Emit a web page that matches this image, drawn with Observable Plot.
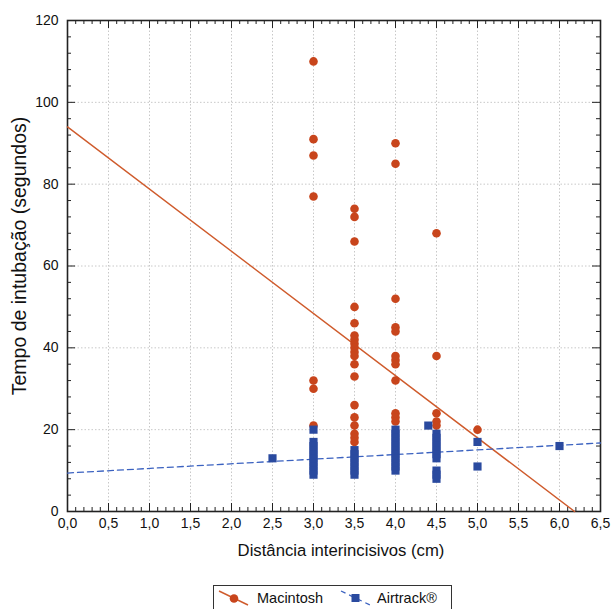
<!DOCTYPE html>
<html><head><meta charset="utf-8">
<script src="https://cdn.jsdelivr.net/npm/d3@7"></script>
<script src="https://cdn.jsdelivr.net/npm/@observablehq/plot@0.6"></script>
<style>
body{margin:0;background:#fff;font-family:"Liberation Sans",Arial,Helvetica,sans-serif;}
#chart{position:absolute;left:0;top:0;}
#legend{position:absolute;left:213px;top:585px;width:239px;height:32px;border:1px solid #333;box-sizing:border-box;background:#fff;font-size:14.5px;color:#111;}
#legend .item{position:absolute;top:3px;display:flex;align-items:center;}
</style></head><body>
<div id="chart"></div>
<div id="legend">
 <div class="item" style="left:3px"><svg width="34" height="18"><line x1="2" y1="2" x2="31" y2="16" stroke="#cf5b2c" stroke-width="1.4"/><circle cx="17" cy="9.5" r="4.3" fill="#c8451c"/></svg><span style="margin-left:6px">Macintosh</span></div>
 <div class="item" style="left:125px"><svg width="34" height="18"><line x1="2" y1="2" x2="31" y2="16" stroke="#3b62c0" stroke-width="1.3" stroke-dasharray="5,4"/><rect x="12.5" y="5" width="8" height="8" fill="#2a4a9f"/></svg><span style="margin-left:4px">Airtrack®</span></div>
</div>
<script>
// Macintosh observations (x: distância interincisivos cm, y: tempo s)
const macintoshX = [3,3,3,3,3,3,3, 3.5,3.5,3.5,3.5,3.5,3.5,3.5,3.5,3.5,3.5,3.5,3.5,3.5,3.5,3.5,3.5,3.5,3.5,3.5, 4,4,4,4,4,4,4,4,4,4,4,4, 4.5,4.5,4.5,4.5,4.5, 5];
const macintoshY = [110,91,87,77,32,30,21, 74,72,66,50,46,43,42,41,40,39,38,36,33,26,23,21,19,18,17, 90,85,52,45,44,38,37,36,32,24,23,22, 68,38,24,22,21, 20];
// Airtrack observations
const airtrackX = [2.5, 3,3,3,3,3,3,3,3,3,3, 3.5,3.5,3.5,3.5,3.5,3.5,3.5, 4,4,4,4,4,4,4,4,4,4,4, 4.4, 4.5,4.5,4.5,4.5,4.5,4.5,4.5,4.5,4.5,4.5, 5,5, 6];
const airtrackY = [13, 20,17,16,15,14,13,12,11,10,9, 15,14,13,12,11,10,9, 20,19,18,17,16,15,14,13,12,11,10, 21, 19,18,17,16,15,14,13,10,9,8, 17,11, 16];
// Regression lines [intercept, slope]
const macintoshFit = [94, -15.2];
const airtrackFit = [9.4, 1.13];
// Axis ticks
const xTicks = [0,0.5,1,1.5,2,2.5,3,3.5,4,4.5,5,5.5,6,6.5];
const yTicks = [0,20,40,60,80,100,120];

const red = "#c8451c", redLine = "#cf5b2c", blue = "#2a4a9f", blueLine = "#3b62c0";
const mac = macintoshX.map((x,i)=>({x, y: macintoshY[i]}));
const air = airtrackX.map((x,i)=>({x, y: airtrackY[i]}));
const xMax = 6.5, yMax = 120;
const macEnd = Math.min(xMax, -macintoshFit[0]/macintoshFit[1]);
const macLine = [0, macEnd].map(x=>({x, y: macintoshFit[0]+macintoshFit[1]*x}));
const airLine = [0, xMax].map(x=>({x, y: airtrackFit[0]+airtrackFit[1]*x}));

const W = 611, H = 578, mL = 67, mR = 11, mT = 20, mB = 67;
const pxX = xMax/(W-mL-mR), pxY = yMax/(H-mT-mB);
const xMinor = d3.range(0, 65).map(i=>i/10).filter(v=>Math.abs(v*2-Math.round(v*2))>1e-6);
const yMinor = d3.range(0, 121, 4).filter(v=>v%20!==0);
const tk = 8, mk = 4;

const chart = Plot.plot({
  width: W, height: H, marginLeft: mL, marginRight: mR, marginTop: mT, marginBottom: mB,
  x: {domain: [0, xMax]}, y: {domain: [0, yMax]},
  style: {fontFamily: "'Liberation Sans', Arial, sans-serif", fontSize: "14px", color: "#111", background: "#fff"},
  marks: [
    Plot.gridX(xTicks.slice(1,-1), {stroke: "#c8c8c8", strokeOpacity: 1, strokeDasharray: "1.5,2"}),
    Plot.gridY(yTicks.slice(1,-1), {stroke: "#c8c8c8", strokeOpacity: 1, strokeDasharray: "1.5,2"}),
    Plot.axisX(xTicks, {tickSize: 0, tickPadding: 7, label: null, fontSize: 14, tickFormat: d => d.toFixed(1).replace(".", ",")}),
    Plot.axisY(yTicks, {tickSize: 0, tickPadding: 9, label: null, fontSize: 14}),
    // inward ticks on all four sides
    Plot.ruleX(xTicks, {y1: 0, y2: tk*pxY, stroke: "#222"}),
    Plot.ruleX(xTicks, {y1: yMax, y2: yMax - tk*pxY, stroke: "#222"}),
    Plot.ruleX(xMinor, {y1: 0, y2: mk*pxY, stroke: "#222"}),
    Plot.ruleX(xMinor, {y1: yMax, y2: yMax - mk*pxY, stroke: "#222"}),
    Plot.ruleY(yTicks, {x1: 0, x2: tk*pxX, stroke: "#222"}),
    Plot.ruleY(yTicks, {x1: xMax, x2: xMax - tk*pxX, stroke: "#222"}),
    Plot.ruleY(yMinor, {x1: 0, x2: mk*pxX, stroke: "#222"}),
    Plot.ruleY(yMinor, {x1: xMax, x2: xMax - mk*pxX, stroke: "#222"}),
    Plot.frame({stroke: "#222", strokeWidth: 1.6}),
    Plot.line(macLine, {x: "x", y: "y", stroke: redLine, strokeWidth: 1.4}),
    Plot.dot(mac, {x: "x", y: "y", r: 4.3, fill: red}),
    Plot.line(airLine, {x: "x", y: "y", stroke: blueLine, strokeWidth: 1.3, strokeDasharray: "6,4"}),
    Plot.dot(air, {x: "x", y: "y", r: 4.6, symbol: "square", fill: blue}),
    Plot.text(["Distância interincisivos (cm)"], {frameAnchor: "bottom", dx: 7, dy: 44, fontSize: 16.7, fill: "#111"}),
    Plot.text(["Tempo de intubação (segundos)"], {frameAnchor: "left", textAnchor: "middle", dx: -48, dy: -10, rotate: -90, fontSize: 19.5, fill: "#111"})
  ]
});
document.getElementById("chart").append(chart);
</script>
</body></html>
